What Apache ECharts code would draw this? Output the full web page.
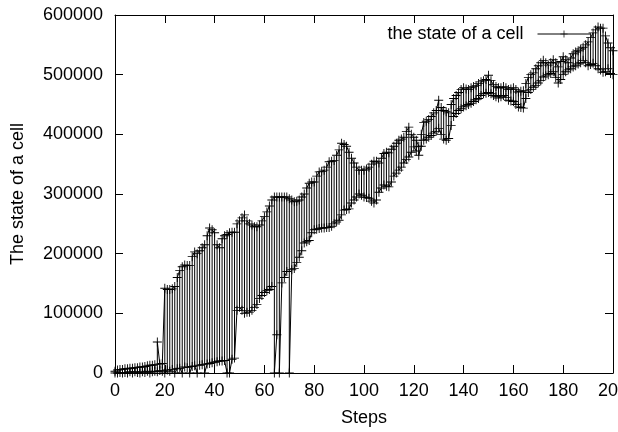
<!DOCTYPE html>
<html>
<head>
<meta charset="utf-8">
<script src="https://cdn.jsdelivr.net/npm/echarts@6/dist/echarts.min.js"></script>
<style>
html,body{margin:0;padding:0;background:#fff;}
#chart{width:618px;height:432px;}
</style>
</head>
<body>
<div id="chart"></div>
<script>
// Two readings of the cell state per step (upper and lower), in thousands, steps 0..200
var highK = [
  3, 5, 6, 6, 7, 7, 8, 8, 9, 9,                         // 0-9
  10, 10, 11, 12, 13, 13, 14, 52, 15, 16,               // 10-19
  142, 140, 140, 141, 145, 160, 172, 178, 181, 180,     // 20-29
  180, 195, 203, 200, 205, 210, 215, 230, 243, 240,     // 30-39
  235, 215, 210, 225, 230, 232, 235, 236, 236, 250,     // 40-49
  255, 260, 265, 255, 250, 248, 245, 245, 248, 255,     // 50-59
  262, 270, 280, 290, 295, 295, 295, 295, 295, 295,     // 60-69
  292, 290, 287, 288, 290, 295, 300, 310, 318, 320,     // 70-79
  320, 330, 337, 338, 340, 345, 354, 355, 356, 365,     // 80-89
  374, 385, 383, 380, 370, 360, 352, 345, 340, 340,     // 90-99
  340, 342, 345, 350, 355, 355, 352, 360, 368, 370,     // 100-109
  369, 375, 380, 385, 390, 392, 395, 405, 412, 400,     // 110-119
  395, 390, 380, 400, 420, 422, 425, 430, 436, 440,     // 120-129
  457, 445, 440, 438, 436, 450, 460, 465, 470, 475,     // 130-139
  478, 476, 475, 478, 480, 482, 485, 488, 490, 492,     // 140-149
  499, 490, 483, 480, 478, 478, 480, 478, 475, 476,     // 150-159
  478, 475, 471, 472, 473, 485, 495, 500, 503, 510,     // 160-169
  515, 520, 524, 520, 516, 520, 525, 520, 513, 522,     // 170-179
  530, 525, 520, 528, 535, 538, 540, 543, 546, 550,     // 180-189
  555, 562, 570, 575, 580, 578, 578, 565, 553, 545,     // 190-199
  540                                                   // 200
];
var lowK = [
  0, 0, 1, 0, 1, 0, 2, 0, 2, 1,                         // 0-9
  0, 2, 1, 3, 0, 2, 3, 2, 4, 3,                         // 10-19
  0, 5, 3, 6, 0, 7, 8, 0, 10, 9,                        // 20-29
  0, 11, 12, 0, 13, 14, 0, 15, 16, 17,                  // 30-39
  18, 19, 20, 20, 21, 0, 0, 23, 25, 105,                // 40-49
  110, 105, 100, 102, 102, 105, 110, 115, 125, 130,     // 50-59
  135, 138, 140, 145, 0, 64, 0, 151, 160, 170,          // 60-69
  0, 173, 175, 185, 194, 205, 218, 220, 222, 235,       // 70-79
  240, 241, 242, 243, 243, 244, 244, 246, 250, 253,     // 80-89
  256, 265, 273, 274, 275, 285, 290, 295, 300, 298,     // 90-99
  295, 294, 293, 288, 285, 290, 303, 310, 315, 313,     // 100-109
  312, 320, 330, 335, 340, 345, 352, 358, 362, 370,     // 110-119
  379, 372, 365, 380, 390, 392, 395, 398, 402, 405,     // 120-129
  410, 400, 392, 390, 393, 415, 430, 435, 440, 443,     // 130-139
  446, 448, 450, 452, 455, 458, 460, 465, 468, 469,     // 140-149
  470, 468, 465, 463, 461, 463, 465, 462, 457, 456,     // 150-159
  455, 450, 446, 445, 444, 460, 470, 475, 479, 482,     // 160-169
  486, 490, 496, 498, 500, 502, 505, 495, 486, 492,     // 170-179
  500, 505, 508, 510, 513, 515, 518, 520, 524, 520,     // 180-189
  515, 517, 519, 515, 510, 508, 504, 505, 510, 502,     // 190-199
  500                                                   // 200
];

var xTicks = [0, 20, 40, 60, 80, 100, 120, 140, 160, 180, 200];
var yTicks = [0, 100000, 200000, 300000, 400000, 500000, 600000];
var seriesName = 'the state of a cell';
var xTitle = 'Steps';
var yTitle = 'The state of a cell';

var FONT = 'Liberation Sans';
var FS = 18;

// each step carries two readings; order alternates so the trace forms vertical strokes
var data = [];
for (var s = 0; s < highK.length; s++) {
  var hi = highK[s] * 1000, lo = lowK[s] * 1000;
  if (s % 2 === 0) { data.push([s, hi]); data.push([s, lo]); }
  else { data.push([s, lo]); data.push([s, hi]); }
}
var plus = 'path://M0,4.5H10V5.5H0ZM4.5,0H5.5V10H4.5Z';

var axisCommon = {
  axisLine: { show: true, onZero: false, lineStyle: { color: '#000', width: 1 } },
  axisTick: { show: true, inside: true, length: 8, lineStyle: { color: '#000', width: 1 } },
  splitLine: { show: false }
};

var chart = echarts.init(document.getElementById('chart'), null, { renderer: 'canvas' });
chart.setOption({
  animation: false,
  backgroundColor: '#fff',
  grid: { left: 115, right: 5, top: 15, bottom: 59, containLabel: false, outerBoundsMode: 'none' },
  legend: {
    data: [seriesName],
    align: 'right',
    right: 22,
    top: 20,
    itemWidth: 53,
    itemHeight: 9,
    lineStyle: { width: 1, color: '#000' },
    textStyle: { fontFamily: FONT, fontSize: FS, color: '#000', padding: [0, 9, 0, 0] }
  },
  xAxis: [
    Object.assign({
      type: 'value', position: 'bottom', min: xTicks[0], max: xTicks[xTicks.length - 1], interval: 20,
      name: xTitle, nameLocation: 'middle', nameGap: 36,
      nameTextStyle: { fontFamily: FONT, fontSize: FS, color: '#000' },
      axisLabel: { fontFamily: FONT, fontSize: FS, color: '#000', margin: 9, showMaxLabel: true, hideOverlap: false }
    }, axisCommon),
    Object.assign({
      type: 'value', position: 'top', min: xTicks[0], max: xTicks[xTicks.length - 1], interval: 20,
      axisLabel: { show: false }
    }, axisCommon)
  ],
  yAxis: [
    Object.assign({
      type: 'value', position: 'left', min: yTicks[0], max: yTicks[yTicks.length - 1], interval: 100000,
      name: yTitle, nameLocation: 'middle', nameGap: 88, nameRotate: 90,
      nameTextStyle: { fontFamily: FONT, fontSize: FS, color: '#000' },
      axisLabel: { fontFamily: FONT, fontSize: FS, color: '#000', margin: 12,
        formatter: function (v) { return String(v); } }
    }, axisCommon),
    Object.assign({
      type: 'value', position: 'right', min: yTicks[0], max: yTicks[yTicks.length - 1], interval: 100000,
      axisLabel: { show: false }
    }, axisCommon)
  ],
  series: [{
    name: seriesName,
    type: 'line',
    xAxisIndex: 0,
    yAxisIndex: 0,
    data: data,
    symbol: plus,
    symbolSize: 9,
    showSymbol: true,
    showAllSymbol: true,
    clip: false,
    lineStyle: { color: '#000', width: 1 },
    itemStyle: { color: '#000' },
    emphasis: { disabled: true }
  }]
});
</script>
</body>
</html>
